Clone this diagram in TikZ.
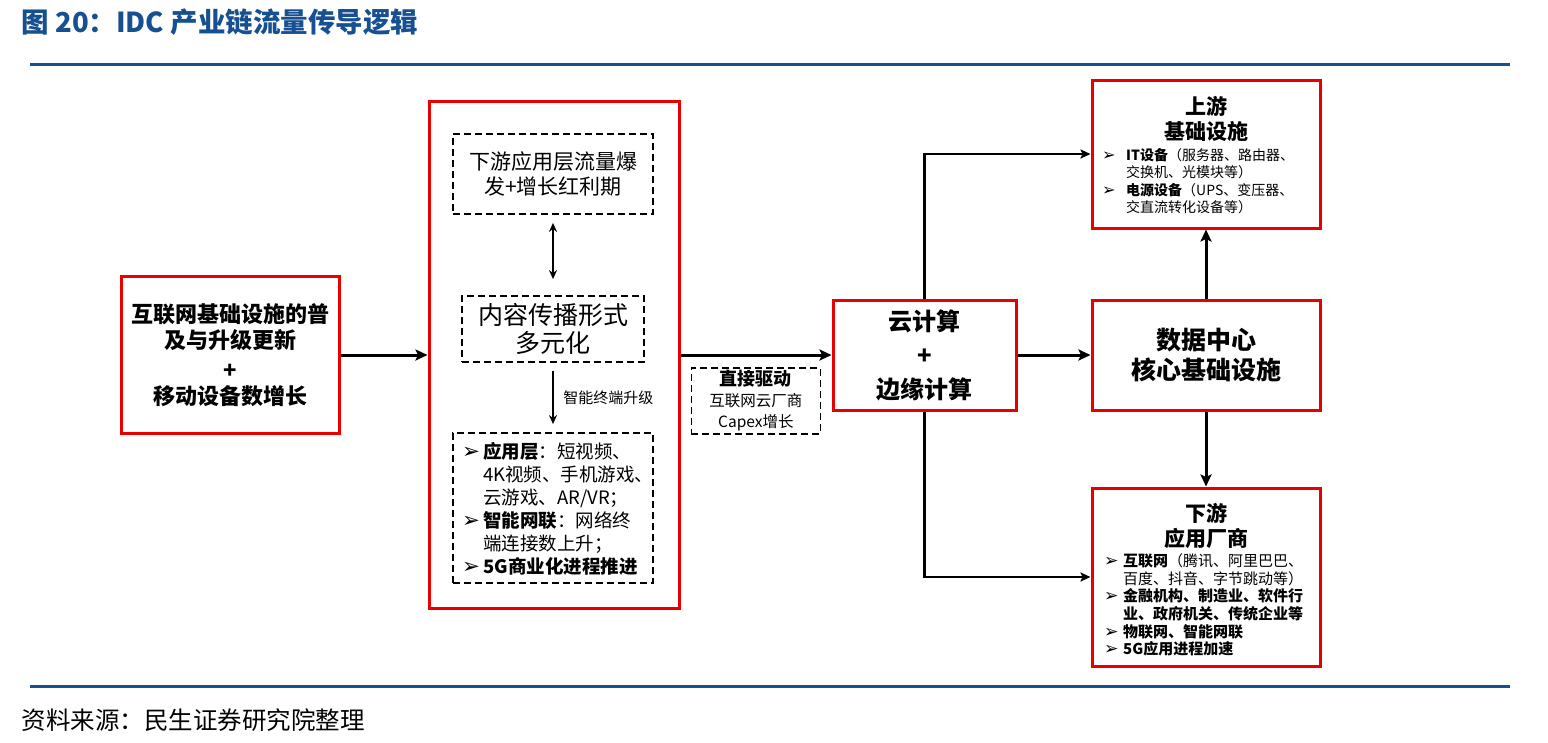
\documentclass[tikz,border=0pt]{standalone}
\usepackage{fontspec}
\setmainfont{Noto Sans CJK SC}
\newfontfamily\symfont{DejaVu Sans}
\usepackage{graphicx}
\usepackage{xcolor}
\usetikzlibrary{arrows.meta, positioning}
\definecolor{titleblue}{RGB}{23,80,145}
\definecolor{boxred}{RGB}{232,0,0}
\newcommand{\bul}[1]{\makebox[#1][l]{\scalebox{1.15}{\symfont\char"27A2}}}

\begin{document}
\begin{tikzpicture}[x=1pt, y=-1pt,
  redbox/.style={draw=boxred, line width=3pt, inner sep=0pt, align=center},
  dashbox/.style={draw, line width=1.8pt, dash pattern=on 7pt off 4pt, inner sep=0pt, align=center},
  flow/.style={line width=3pt, -{Stealth[length=12pt, width=11pt, inset=2.5pt]}},
  branch/.style={line width=2.2pt, -{Stealth[length=10pt, width=9pt, inset=2pt]}},
  thinflow/.style={line width=1.9pt, -{Stealth[length=9pt, width=8pt]}},
  twoway/.style={line width=1.9pt, {Stealth[length=9pt, width=8pt]}-{Stealth[length=9pt, width=8pt]}}]
  \useasboundingbox (0,0) rectangle (1548,742);

  % title and rules
  \node[anchor=base west, text=titleblue, font=\bfseries\fontsize{27.5}{27.5}\selectfont] (title) at (18,32) {图 20：IDC 产业链流量传导逻辑};
  \foreach \y in {64,686} {
    \draw[titleblue, line width=3pt] (30,\y) -- (1510,\y);
  }
  \node[anchor=base west, font=\fontsize{24.5}{24.5}\selectfont] (source) at (18,729) {资料来源：民生证券研究院整理};

  % left box
  \node[redbox, minimum width=218, minimum height=157, font=\bfseries\fontsize{22}{26}\selectfont] (base) at (230,355) {互联网基础设施的普\\及与升级更新\\[4pt]+\\移动设备数增长};

  % middle box
  \node[redbox, minimum width=250, minimum height=507] (spread) at (554,355) {};
  \node[dashbox, minimum width=200, minimum height=80, font=\fontsize{21}{25}\selectfont] (burst) at (553,174) {下游应用层流量爆\\发+增长红利期};
  \node[dashbox, minimum width=182, minimum height=66, font=\fontsize{25}{28}\selectfont] (form) at (553,329) {内容传播形式\\多元化};
  \node[dashbox, minimum width=200, minimum height=150] (apps) at (553,508) {};
  \node[anchor=west, align=left, inner sep=0pt, font=\fontsize{18.5}{23}\selectfont] (appslist) at (462,509) {%
    \bul{21pt}\textbf{应用层}：短视频、\\
    \hspace*{21pt}4K视频、手机游戏、\\
    \hspace*{21pt}云游戏、AR/VR；\\
    \bul{21pt}\textbf{智能网联}：网络终\\
    \hspace*{21pt}端连接数上升；\\
    \bul{21pt}\textbf{5G商业化进程推进}};
  \draw[twoway, shorten <=8pt, shorten >=16pt] (burst) -- (form);
  \draw[thinflow, shorten <=8pt, shorten >=8pt] (form) -- (apps)
    node[pos=0.5, right=6pt, font=\fontsize{15}{15}\selectfont] (upgrade) {智能终端升级};

  % cloud and data centre
  \node[redbox, minimum width=183, minimum height=110, font=\bfseries\fontsize{24}{34}\selectfont] (cloud) at (924.5,355) {云计算\\+\\边缘计算};
  \node[redbox, minimum width=228, minimum height=110, font=\bfseries\fontsize{25}{30}\selectfont] (dc) at (1206,355) {数据中心\\核心基础设施};
  \node[dashbox, minimum width=129, minimum height=66, below right=12pt and 10pt of spread.east, font=\fontsize{15.5}{21}\selectfont] (capex) {\textbf{\fontsize{18}{21}\selectfont 直接驱动}\\互联网云厂商\\Capex增长};

  % upstream box
  \node[redbox, minimum width=228, minimum height=148] (up) at (1206,154) {};
  \node[align=center, inner sep=0pt, font=\bfseries\fontsize{21}{25}\selectfont] (uptitle) at (1206,119) {上游\\基础设施};
  \node[anchor=west, align=left, inner sep=0pt, font=\fontsize{14}{17.5}\selectfont] (uplist) at (1102,181) {%
    \bul{24pt}\textbf{IT设备}（服务器、路由器、\\
    \hspace*{24pt}交换机、光模块等）\\
    \bul{24pt}\textbf{电源设备}（UPS、变压器、\\
    \hspace*{24pt}交直流转化设备等）};

  % downstream box
  \node[redbox, minimum width=228, minimum height=178] (down) at (1206,577) {};
  \node[align=center, inner sep=0pt, font=\bfseries\fontsize{21}{25}\selectfont] (downtitle) at (1206,526) {下游\\应用厂商};
  \node[anchor=west, align=left, inner sep=0pt, font=\fontsize{15}{17.6}\selectfont] (downlist) at (1104,605) {%
    \bul{19pt}\textbf{互联网}（腾讯、阿里巴巴、\\
    \hspace*{19pt}百度、抖音、字节跳动等）\\
    \bul{19pt}\textbf{金融机构、制造业、软件行}\\
    \hspace*{19pt}\textbf{业、政府机关、传统企业等}\\
    \bul{19pt}\textbf{物联网、智能网联}\\
    \bul{19pt}\textbf{5G应用进程加速}};

  % connectors
  \foreach \a/\b in {base/spread, spread/cloud, cloud/dc, dc/up, dc/down} {
    \draw[flow] (\a) -- (\b);
  }
  \draw[branch] (cloud.north) |- (up.west);
  \draw[branch] (cloud.south) |- (down.west);
\end{tikzpicture}
\end{document}
